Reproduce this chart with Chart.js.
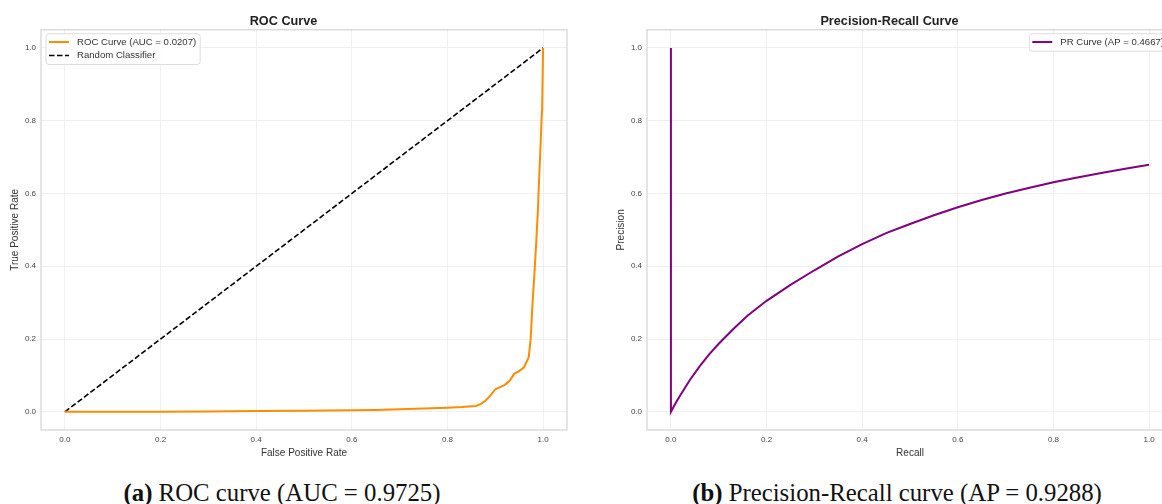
<!DOCTYPE html>
<html>
<head>
<meta charset="utf-8">
<script src="https://cdn.jsdelivr.net/npm/chart.js@4.4.1/dist/chart.umd.min.js"></script>
<style>
  html, body { margin: 0; padding: 0; background: #fff; width: 1162px; height: 504px; overflow: hidden; }
  .panel { position: absolute; top: 0; }
  .caption {
    position: absolute; width: 600px; text-align: center;
    font-family: "Liberation Serif", "DejaVu Serif", serif; font-size: 24.8px;
    line-height: 24px; color: #111; white-space: nowrap;
  }
  .caption b { font-weight: bold; }
</style>
</head>
<body>
<canvas id="rocChart" class="panel" style="left:0px" width="580" height="470"></canvas>
<canvas id="prChart" class="panel" style="left:606px" width="580" height="470"></canvas>
<div class="caption" style="left:-18px; top:481px"><b>(a)</b> ROC curve (AUC = 0.9725)</div>
<div class="caption" style="left:597px; top:481px"><b>(b)</b> Precision-Recall curve (AP = 0.9288)</div>

<script>
// Data
const tickVals = [0, 0.2, 0.4, 0.6, 0.8, 1.0];

const rocFpr = [0, 0.1, 0.2, 0.3, 0.4, 0.5, 0.6, 0.65, 0.7, 0.75, 0.8, 0.83, 0.86, 0.87, 0.88,
                0.89, 0.9, 0.91, 0.92, 0.93, 0.94, 0.95, 0.96, 0.97, 0.974, 0.978, 0.981,
                0.985, 0.989, 0.992, 0.995, 0.997, 0.998, 1.0];
const rocTpr = [0, 0, 0, 0.001, 0.002, 0.003, 0.004, 0.005, 0.007, 0.009, 0.011, 0.013, 0.016, 0.022, 0.031,
                0.045, 0.062, 0.068, 0.074, 0.085, 0.105, 0.112, 0.122, 0.15, 0.2, 0.3, 0.36,
                0.45, 0.55, 0.65, 0.74, 0.81, 0.83, 1.0];

const diagX = [0, 1];
const diagY = [0, 1];

const prRecall = [0, 0, 0.01, 0.02, 0.04, 0.06, 0.08, 0.1, 0.13, 0.16, 0.2, 0.25, 0.3, 0.35,
                  0.4, 0.45, 0.5, 0.55, 0.6, 0.65, 0.7, 0.75, 0.8, 0.85, 0.9, 0.95, 1.0];
const prPrecision = [1.0, 0, 0.024, 0.046, 0.088, 0.125, 0.158, 0.187, 0.227, 0.264, 0.305, 0.349, 0.389, 0.427,
                     0.461, 0.491, 0.516, 0.54, 0.562, 0.582, 0.6, 0.616, 0.631, 0.644, 0.656, 0.668, 0.679];

const toPoints = (xs, ys) => xs.map((x, i) => ({ x: x, y: ys[i] }));

Chart.defaults.font.family = '"Liberation Sans", Arial, sans-serif';
Chart.defaults.color = '#444';

// Light grey frame round the plot area (all four spines)
const frameBox = {
    id: 'frameBox',
    beforeDatasetsDraw(chart) {
        const { ctx, chartArea: a } = chart;
        ctx.save();
        ctx.strokeStyle = '#d4d4d4';
        ctx.lineWidth = 1.2;
        ctx.strokeRect(a.left, a.top, a.right - a.left, a.bottom - a.top);
        ctx.restore();
    }
};

// Matplotlib-like legend box inside the axes
const boxLegend = {
    id: 'boxLegend',
    afterDatasetsDraw(chart, args, opts) {
        const { ctx, chartArea } = chart;
        const items = chart.data.datasets;
        ctx.save();
        ctx.font = '9.6px "Liberation Sans", Arial, sans-serif';
        const textW = Math.max(...items.map(d => ctx.measureText(d.label).width));
        const rowH = 13.4;
        const w = 31 + textW + 4;
        const h = items.length * rowH + 4;
        const x = opts.align === 'right' ? chartArea.right - 5 - w : chartArea.left + 5;
        const y = chartArea.top + 4;

        ctx.beginPath();
        ctx.roundRect(x, y, w, h, 3);
        ctx.fillStyle = 'rgba(255,255,255,0.85)';
        ctx.fill();
        ctx.strokeStyle = '#dcdcdc';
        ctx.lineWidth = 1;
        ctx.stroke();

        items.forEach((d, i) => {
            const cy = y + 8.3 + i * rowH;
            ctx.beginPath();
            ctx.setLineDash(d.borderDash || []);
            ctx.strokeStyle = d.borderColor;
            ctx.lineWidth = d.borderWidth;
            ctx.moveTo(x + 3, cy);
            ctx.lineTo(x + 23, cy);
            ctx.stroke();
            ctx.setLineDash([]);
            ctx.fillStyle = '#333';
            ctx.textBaseline = 'middle';
            ctx.fillText(d.label, x + 31, cy);
        });
        ctx.restore();
    }
};

function makeScale(title, isY) {
    return {
        type: 'linear',
        min: -0.05,
        max: 1.05,
        afterBuildTicks: s => { s.ticks = tickVals.map(v => ({ value: v })); },
        afterFit: s => { if (isY) s.width = 41; else s.height = 40; },
        grid: { color: '#ececec', lineWidth: 0.8, drawTicks: false },
        border: { display: false },
        ticks: {
            font: { size: 8 },
            color: '#444',
            padding: 5,
            maxRotation: 0,
            callback: v => v.toFixed(1)
        },
        title: {
            display: true,
            text: title,
            color: '#333',
            font: { size: 10 },
            padding: isY ? { top: 9, bottom: 0 } : { top: 0, bottom: 11 }
        }
    };
}

function getChartOptions(title, xTitle, yTitle, legendAlign) {
    return {
        responsive: false,
        animation: false,
        layout: { padding: { left: 0, right: 13, top: 0, bottom: 0 } },
        plugins: {
            legend: { display: false },
            tooltip: { enabled: false },
            title: {
                display: true,
                text: title,
                color: '#222',
                font: { size: 12.7, weight: 'bold' },
                padding: { top: 14, bottom: 0.5 }
            },
            boxLegend: { align: legendAlign }
        },
        scales: {
            x: makeScale(xTitle, false),
            y: makeScale(yTitle, true)
        },
        elements: { point: { radius: 0 } }
    };
}

function createDataset(label, xs, ys, color, extra) {
    return Object.assign({
        label: label,
        data: toPoints(xs, ys),
        borderColor: color,
        backgroundColor: color,
        borderWidth: 2,
        tension: 0,
        fill: false,
        pointRadius: 0
    }, extra || {});
}

new Chart(document.getElementById('rocChart').getContext('2d'), {
    type: 'line',
    data: {
        datasets: [
            createDataset('ROC Curve (AUC = 0.0207)', rocFpr, rocTpr, '#ff8c00'),
            createDataset('Random Classifier', diagX, diagY, '#000000', { borderWidth: 1.6, borderDash: [5.5, 2.5] })
        ]
    },
    options: getChartOptions('ROC Curve', 'False Positive Rate', 'True Positive Rate', 'left'),
    plugins: [frameBox, boxLegend]
});

new Chart(document.getElementById('prChart').getContext('2d'), {
    type: 'line',
    data: {
        datasets: [
            createDataset('PR Curve (AP = 0.4667)', prRecall, prPrecision, '#800080')
        ]
    },
    options: getChartOptions('Precision-Recall Curve', 'Recall', 'Precision', 'right'),
    plugins: [frameBox, boxLegend]
});
</script>
</body>
</html>
